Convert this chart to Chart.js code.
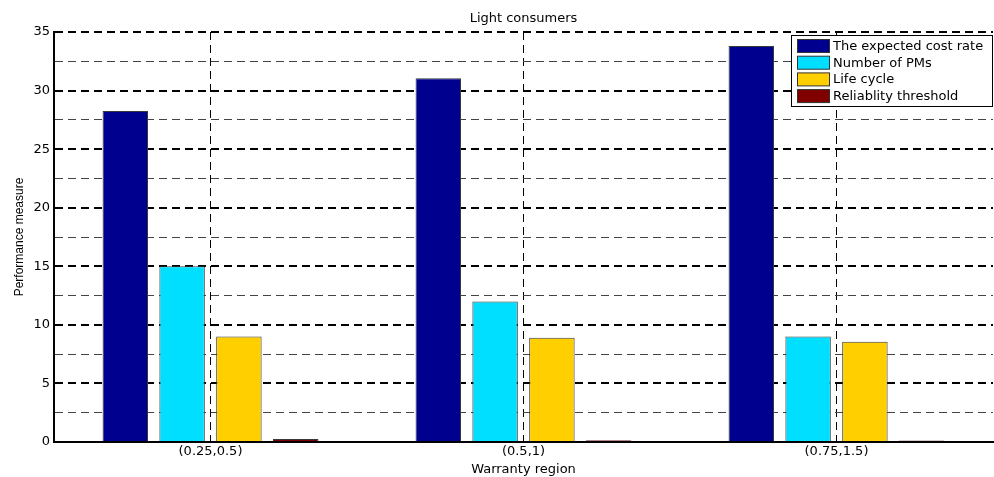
<!DOCTYPE html>
<html lang="en">
<head>
  <meta charset="UTF-8" />
  <title>Light consumers</title>
  <script src="https://cdn.jsdelivr.net/npm/chart.js"></script>
  <style>
    html, body { margin: 0; padding: 0; background: #fff; }
    #wrap { width: 994px; height: 477px; position: relative; }
  </style>
</head>
<body>
  <div id="wrap"><canvas id="chart"></canvas></div>
  <script>
    // data
    const regions = ['(0.25,0.5)', '(0.5,1)', '(0.75,1.5)'];
    const costRate = [28.25, 31.05, 33.8];
    const numPMs = [15, 12, 9];
    const lifeCycle = [9, 8.9, 8.55];
    const reliability = [0.25, 0.15, 0.13];
    const seriesNames = ['The expected cost rate', 'Number of PMs', 'Life cycle', 'Reliablity threshold'];
    const colors = ['#00008F', '#00DFFF', '#FFCF00', '#800000'];
    const chartTitle = 'Light consumers';

    // matlab text looks stretched sideways, DejaVu is closest in width
    const font = '"DejaVu Sans", sans-serif';

    // title centred over the plot area, not the canvas
    const plotTitle = {
      id: 'plotTitle',
      afterDraw(chart) {
        const ctx = chart.ctx, a = chart.chartArea;
        ctx.save();
        ctx.font = '13px ' + font;
        ctx.fillStyle = '#000';
        ctx.textAlign = 'center';
        ctx.textBaseline = 'alphabetic';
        ctx.fillText(chartTitle, (a.left + a.right) / 2, 22);
        ctx.restore();
      }
    };

    // legend box in the top right corner, like the matlab one
    const boxLegend = {
      id: 'boxLegend',
      afterDraw(chart) {
        const ctx = chart.ctx;
        const x = 791, y = 35, w = 201, h = 71;
        ctx.save();
        ctx.fillStyle = '#fff';
        ctx.fillRect(x, y, w, h);
        ctx.strokeStyle = '#000';
        ctx.lineWidth = 1;
        ctx.strokeRect(x + 0.5, y + 0.5, w, h);
        ctx.font = '13px ' + font;
        ctx.textBaseline = 'middle';
        chart.data.datasets.forEach((ds, i) => {
          const cy = 46 + i * 16.7;
          ctx.fillStyle = ds.backgroundColor;
          ctx.fillRect(797, cy - 6.5, 32, 13);
          ctx.strokeStyle = '#333';
          ctx.strokeRect(797.5, cy - 6.5, 32, 13);
          ctx.fillStyle = '#000';
          ctx.fillText(ds.label, 833, cy + 0.5);
        });
        ctx.restore();
      }
    };

    new Chart(document.getElementById('chart'), {
      type: 'bar',
      data: {
        labels: regions,
        datasets: [costRate, numPMs, lifeCycle, reliability].map((d, i) => ({
          label: seriesNames[i],
          data: d,
          backgroundColor: colors[i],
          borderColor: '#3a3a3a',
          borderWidth: 1,
          categoryPercentage: 0.726,
          barPercentage: 0.8
        }))
      },
      options: {
        responsive: true,
        maintainAspectRatio: false,
        animation: false,
        layout: { padding: { left: 0, right: 1, top: 32, bottom: 0 } },
        plugins: {
          legend: { display: false },
          tooltip: { enabled: false },
          title: { display: false }
        },
        scales: {
          x: {
            grid: {
              offset: false,
              drawTicks: false,
              color: '#000',
              lineWidth: 1
            },
            border: { color: '#000', width: 2, dash: [8, 5] },
            ticks: { color: '#000', font: { family: font, size: 13 }, padding: 2 },
            title: {
              display: true,
              text: 'Warranty region',
              color: '#000',
              font: { family: font, size: 13 },
              padding: { top: 0, bottom: 0 }
            },
            afterFit(scale) { scale.height = 35; }
          },
          y: {
            min: 0,
            max: 35,
            grid: {
              drawTicks: false,
              color: ctx => (ctx.tick && ctx.tick.value % 5 === 0) ? '#000' : '#444',
              lineWidth: ctx => (ctx.tick && ctx.tick.value % 5 === 0) ? 2 : 1
            },
            border: { color: '#000', width: 2, dash: [8, 5] },
            ticks: {
              stepSize: 2.5,
              color: '#000',
              font: { family: font, size: 13 },
              padding: 4,
              callback: v => (v % 5 === 0 ? v : '')
            },
            title: {
              display: true,
              text: 'Performance measure',
              color: '#000',
              font: { family: 'Liberation Sans, Arial, sans-serif', size: 12 },
              padding: { top: 12, bottom: 0 }
            },
            afterFit(scale) { scale.width = 54; }
          }
        }
      },
      plugins: [plotTitle, boxLegend]
    });
  </script>
</body>
</html>
